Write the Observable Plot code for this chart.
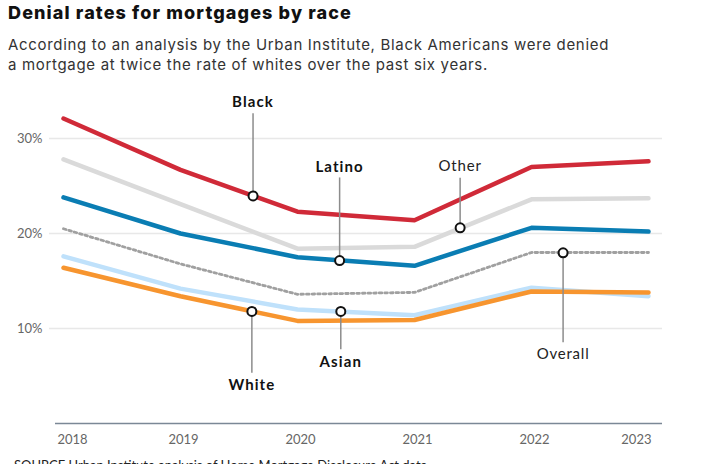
<!DOCTYPE html>
<html><head><meta charset="utf-8">
<script src="https://cdn.jsdelivr.net/npm/d3@7"></script>
<script src="https://cdn.jsdelivr.net/npm/@observablehq/plot@0.6"></script>
<style>
body{margin:0;background:#fff;width:719px;height:464px;overflow:hidden;}
#hdr{position:relative;height:84px;}
#title{position:absolute;left:8px;top:1.8px;font-family:Inter,"Noto Sans",sans-serif;font-weight:800;font-size:18px;line-height:22px;color:#111;white-space:nowrap;}
#sub{position:absolute;left:8px;top:35px;font-family:Inter,"Noto Sans",sans-serif;font-size:15px;line-height:20px;color:#333;white-space:nowrap;}
#sub span{display:inline-block;}
#cap{font-family:Lato,sans-serif;font-size:13px;color:#222;padding-left:14px;margin-top:1px;white-space:nowrap;}
g[font-size="15"] text{letter-spacing:0.8px;}
g[font-size="15"][font-weight="bold"] text{letter-spacing:1.1px;}
</style>
</head><body>
<div id="hdr">
<div id="title"><span id="t1">Denial rates for mortgages by race</span></div>
<div id="sub"><span id="s1">According to an analysis by the Urban Institute, Black Americans were denied</span><br><span id="s2">a mortgage at twice the rate of whites over the past six years.</span></div>
</div>
<div id="chart"></div>
<div id="cap">SOURCE Urban Institute analysis of Home Mortgage Disclosure Act data</div>
<script>
const years = [2018, 2019, 2020, 2021, 2022, 2023];
const black   = [0.321, 0.267, 0.223, 0.214, 0.270, 0.276];
const other   = [0.278, 0.231, 0.184, 0.186, 0.236, 0.237];
const latino  = [0.238, 0.200, 0.175, 0.166, 0.206, 0.202];
const overall = [0.205, 0.168, 0.136, 0.138, 0.180, 0.180];
const asian   = [0.176, 0.142, 0.120, 0.114, 0.143, 0.134];
const white   = [0.164, 0.134, 0.108, 0.109, 0.139, 0.138];

const yTicks = [0.1, 0.2, 0.3];
const yTickLabels = ["10%", "20%", "30%"];

const annoNames   = ["Black", "Latino", "Other", "Overall", "White", "Asian"];
const annoYears   = [2019.62, 2020.36, 2021.39, 2022.27, 2019.61, 2020.37];
const annoValues  = [0.2395, 0.1715, 0.2060, 0.1797, 0.1180, 0.1180];
const annoLineEnd = [0.326, 0.2585, 0.2582, 0.085, 0.053, 0.0776];
const annoLabelAt = [0.338, 0.2698, 0.271, 0.0734, 0.0402, 0.0645];
const annoBold    = [true, true, false, false, true, true];

const series = [
  {name: "Other", values: other, color: "#dadada", width: 4.5, dash: null},
  {name: "Overall", values: overall, color: "#a0a0a0", width: 2.8, dash: "2.6,3"},
  {name: "Asian", values: asian, color: "#bfe1fb", width: 4.5, dash: null},
  {name: "White", values: white, color: "#f7952f", width: 4.5, dash: null},
  {name: "Latino", values: latino, color: "#0a7db3", width: 4.5, dash: null},
  {name: "Black", values: black, color: "#d02a38", width: 4.5, dash: null}
];
const rows = s => years.map((y, i) => ({year: y, value: s.values[i]}));
const idx = annoNames.map((_, i) => i);
const boldIdx = idx.filter(i => annoBold[i]);
const normIdx = idx.filter(i => !annoBold[i]);

const chart = Plot.plot({
  width: 719, height: 372,
  marginLeft: 63, marginRight: 71, marginTop: 6.5, marginBottom: 33,
  style: {fontFamily: "Lato, sans-serif", fontSize: "13px", background: "#fff", overflow: "visible"},
  x: {domain: [2018, 2023], axis: null},
  y: {domain: [0, 0.35], axis: null},
  marks: [
    Plot.ruleY(yTicks, {stroke: "#e8e8e8", strokeWidth: 1.5, insetLeft: -14, insetRight: -14}),
    Plot.ruleY([0], {stroke: "#7b8896", strokeWidth: 1.6, insetLeft: -8, insetRight: -14}),
    Plot.text(yTicks, {frameAnchor: "left", y: d => d, text: (d, i) => yTickLabels[i], textAnchor: "end", dx: -21, fill: "#666", fontSize: 13}),
    Plot.text(years.slice(0, 1), {x: d => d, y: 0, text: d => String(d), textAnchor: "start", dx: -6, dy: 16.5, fill: "#666", fontSize: 13}),
    Plot.text(years.slice(1, -1), {x: d => d, y: 0, text: d => String(d), dx: 3, dy: 16.5, fill: "#666", fontSize: 13}),
    Plot.text(years.slice(-1), {x: d => d, y: 0, text: d => String(d), textAnchor: "end", dx: 3, dy: 16.5, fill: "#666", fontSize: 13}),
    ...series.map(s => Plot.line(rows(s), {x: "year", y: "value", stroke: s.color, strokeWidth: s.width, strokeDasharray: s.dash, strokeLinejoin: "round"})),
    Plot.ruleX(idx, {x: i => annoYears[i], y1: i => annoValues[i], y2: i => annoLineEnd[i], stroke: "#8c8c8c", strokeWidth: 1.5}),
    Plot.dot(idx, {x: i => annoYears[i], y: i => annoValues[i], r: 4.5, fill: "#fff", stroke: "#111", strokeWidth: 2}),
    Plot.text(boldIdx, {x: i => annoYears[i], y: i => annoLabelAt[i], text: i => annoNames[i], fontWeight: "bold", fontSize: 15, fill: "#111"}),
    Plot.text(normIdx, {x: i => annoYears[i], y: i => annoLabelAt[i], text: i => annoNames[i], fontSize: 15, fill: "#222"})
  ]
});
document.getElementById("chart").appendChild(chart);

// fit header text widths to the reference
function fit(id, target) {
  const el = document.getElementById(id);
  const w = el.getBoundingClientRect().width;
  const n = el.textContent.length;
  el.style.letterSpacing = ((target - w) / n) + "px";
}
fit("t1", 344);
fit("s1", 601);
const ls = document.getElementById("s1").style.letterSpacing;
document.getElementById("s2").style.letterSpacing = ls;
</script>
</body></html>
